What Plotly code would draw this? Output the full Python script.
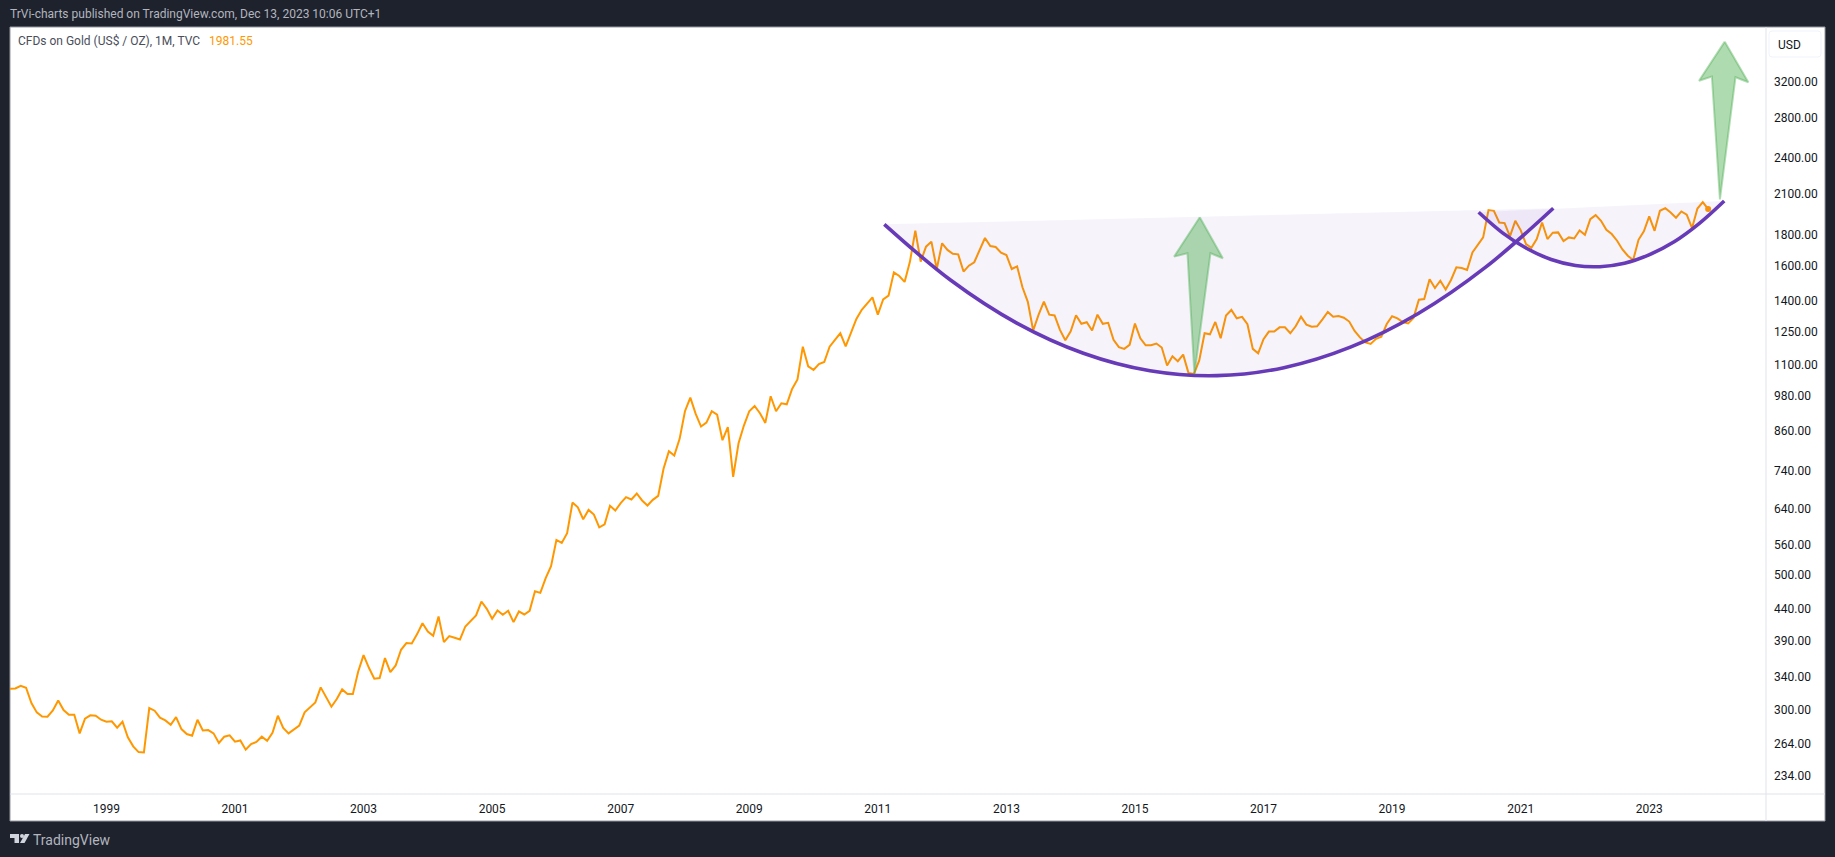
import plotly.graph_objects as go

# monthly closes, bar 0 is Jul 1997
closes_1997_2003 = [
    325, 325.4, 328.7, 326.2, 307.9, 297.3, 292.8, 292.5, 299.5, 311, 299.9, 294.7,
    294.7, 274.7, 290.3, 294, 293.6, 289.2, 287, 287.4, 280.6, 287, 270.6, 261.6,
    256, 255.7, 302.2, 299.2, 291.4, 288.5, 283.8, 292.1, 279.2, 274, 272.3, 289.2,
    277.8, 278.1, 274.7, 264.9, 271.3, 272.6, 266.2, 267.5, 258.3, 263.9, 265.9, 271.3,
    267.2, 275.4, 293.6, 280.3, 274.7, 278.5, 282.8, 297.3, 302.6, 308.7, 326.7, 315.7,
    303.7, 312.6, 324.2, 318.5, 318.5, 346.9, 368.9, 351.7, 337.5, 338.4, 364.8, 346,
    354.9,
]
closes_2003_2009 = [
    376.4, 386, 385.5, 399.3, 416.1, 403.3, 396.8, 426.7, 387.4, 396.3, 393.8, 391.3,
    411, 420.4, 428.4, 451.5, 439.2, 423, 436.5, 429.4, 436, 417.7, 434.9, 430,
    436, 469.4, 466.5, 493, 515.7, 569.5, 563, 584, 655.5, 644, 615.6, 637.7,
    626.6, 597, 604, 647.6, 636.3, 654.2, 669.1, 663.3, 678.4, 660.8, 648.4, 662.4,
    672.5, 744.5, 795.6, 782.8, 833.5, 925, 973.9, 915.7, 873.1, 886.3, 925, 913.5,
    829.3, 870.9, 722.4, 819.9, 876.4, 925, 943.7, 918, 885.2, 978.7, 925, 953.2,
]
closes_2009_2016 = [
    949.7, 1006, 1043, 1180, 1095.7, 1081, 1105, 1113.8, 1180, 1210, 1240.8, 1181.5,
    1243.9, 1309.6, 1356, 1385.5, 1420.8, 1331, 1410, 1429.8, 1561, 1540, 1506, 1626,
    1827, 1626, 1720, 1753, 1581, 1742, 1699, 1675, 1671, 1566, 1601, 1622,
    1699, 1777, 1724, 1718, 1682, 1667, 1581, 1597, 1476, 1397, 1254, 1330,
    1398, 1331, 1327, 1257, 1209, 1250, 1328, 1286, 1294, 1254, 1331, 1286,
    1291, 1211, 1178, 1170, 1188, 1287, 1218, 1186, 1186, 1194, 1176, 1099,
    1138, 1117, 1145, 1068, 1064, 1120, 1241, 1236, 1295, 1218, 1327, 1355,
]
closes_2016_2023 = [
    1313, 1320, 1284, 1170, 1151, 1214, 1249, 1249, 1269, 1269, 1241, 1274,
    1321, 1282, 1272, 1274, 1308, 1345, 1321, 1324, 1316, 1297, 1252, 1222,
    1199, 1192, 1215, 1225, 1285, 1323, 1313, 1295, 1288, 1315, 1408, 1412,
    1521, 1472, 1513, 1463, 1517, 1591, 1587, 1575, 1683, 1730, 1781, 1974,
    1969, 1884, 1880, 1788, 1896, 1831, 1737, 1713, 1770, 1884, 1770, 1813,
    1815, 1757, 1781, 1774, 1829, 1799, 1908, 1937, 1896, 1833, 1804, 1759,
    1702, 1662, 1635, 1765, 1822, 1928, 1826, 1969, 1989, 1957, 1918, 1964,
    1940, 1845, 1986, 2034, 1981.55,
]
closes = closes_1997_2003 + closes_2003_2009 + closes_2009_2016 + closes_2016_2023
bars = list(range(len(closes)))

year_labels = [1999, 2001, 2003, 2005, 2007, 2009, 2011, 2013, 2015, 2017, 2019, 2021, 2023]
price_ticks = [234, 264, 300, 340, 390, 440, 500, 560, 640, 740, 860, 980, 1100, 1250,
               1400, 1600, 1800, 2100, 2400, 2800, 3200]

# hand drawn curves and arrows, as bar / price pairs
big_curve_bars = [163.21, 175.56, 187.94, 200.37, 212.81, 225.31, 237.8, 250.33, 262.89, 275.47, 288.09]
big_curve_prices = [1871, 1516.8, 1289.6, 1150.9, 1077.3, 1057.7, 1090, 1178.7, 1337, 1592, 1987.7]
small_curve_bars = [274.16, 278.62, 283.16, 287.7, 292.23, 296.8, 301.39, 305.96, 310.66, 315.31, 320]
small_curve_prices = [1958, 1812, 1708, 1639, 1602, 1595, 1615.6, 1667.6, 1752, 1876, 2043]
arrow1_bars = [222.1, 226.4, 224.1, 221.1, 219.8, 217.3]
arrow1_prices = [1921.6, 1646.5, 1678, 1063, 1678, 1656.6]
arrow2_bars = [320.1, 324.5, 322.1, 319.2, 317.7, 315.3]
arrow2_prices = [3725, 3196, 3257, 2056, 3265, 3215]

ORANGE = "#FF9800"
PURPLE = "#673AB7"
DARK = "#1E222D"
W, H = 1835, 857
LEFT, RIGHT, TOP, BOTTOM = 10, 1766, 27, 794


def px(x):
    return (x - LEFT) / (RIGHT - LEFT)


def py(y):
    return (BOTTOM - y) / (BOTTOM - TOP)


fig = go.Figure()

fig.add_trace(go.Scatter(x=bars, y=closes, mode="lines", line=dict(color=ORANGE, width=2),
                         showlegend=False))
fig.add_trace(go.Scatter(x=bars[-1:], y=closes[-1:], mode="markers",
                         marker=dict(color=ORANGE, size=6), showlegend=False))

for xs, ys in [(big_curve_bars, big_curve_prices), (small_curve_bars, small_curve_prices)]:
    fig.add_trace(go.Scatter(x=xs, y=ys, mode="lines", fill="toself",
                             fillcolor="rgba(103,58,183,0.06)",
                             line=dict(color=PURPLE, width=3.6, shape="spline", smoothing=1),
                             hoverinfo="skip", showlegend=False))

for xs, ys in [(arrow1_bars, arrow1_prices), (arrow2_bars, arrow2_prices)]:
    fig.add_trace(go.Scatter(x=xs + xs[:1], y=ys + ys[:1], mode="lines", fill="toself",
                             fillcolor="rgba(76,175,80,0.45)",
                             line=dict(color="rgba(76,175,80,0.42)", width=2),
                             hoverinfo="skip", showlegend=False))

shapes = [
    # white panel and axis strips
    dict(type="rect", xref="paper", yref="paper", layer="below",
         x0=px(10), x1=px(1825), y0=py(821), y1=py(27),
         fillcolor="white", line=dict(color="#9598A1", width=1)),
    dict(type="line", xref="paper", yref="paper", layer="below",
         x0=px(10), x1=px(1825), y0=py(794), y1=py(794), line=dict(color="#E0E3EB", width=1)),
    dict(type="line", xref="paper", yref="paper", layer="below",
         x0=px(1766), x1=px(1766), y0=py(821), y1=py(27), line=dict(color="#E0E3EB", width=1)),
    # USD box
    dict(type="path", xref="paper", yref="paper", layer="below",
         path=f"M {px(1772)} {py(31)} L {px(1818)} {py(31)} Q {px(1821)} {py(31)} {px(1821)} {py(34)} "
              f"L {px(1821)} {py(54)} Q {px(1821)} {py(57)} {px(1818)} {py(57)} "
              f"L {px(1772)} {py(57)} Q {px(1769)} {py(57)} {px(1769)} {py(54)} "
              f"L {px(1769)} {py(34)} Q {px(1769)} {py(31)} {px(1772)} {py(31)} Z",
         fillcolor="white", line=dict(color="#F0F3FA", width=1)),
    # TradingView logo
    dict(type="path", xref="paper", yref="paper", layer="above",
         path=f"M {px(10)} {py(834)} L {px(19)} {py(834)} L {px(19)} {py(843)} L {px(14.5)} {py(843)} "
              f"L {px(14.5)} {py(838)} L {px(10)} {py(838)} Z",
         fillcolor="#D1D4DC", line=dict(width=0)),
    dict(type="circle", xref="paper", yref="paper", layer="above",
         x0=px(20), x1=px(24), y0=py(838), y1=py(834), fillcolor="#D1D4DC", line=dict(width=0)),
    dict(type="path", xref="paper", yref="paper", layer="above",
         path=f"M {px(25)} {py(834)} L {px(29.5)} {py(834)} L {px(24.5)} {py(843)} L {px(20)} {py(843)} Z",
         fillcolor="#D1D4DC", line=dict(width=0)),
]


def label(text, x, y, color, size=12):
    return dict(text=text, xref="paper", yref="paper", x=px(x), y=py(y), xanchor="left",
                yanchor="middle", showarrow=False, font=dict(color=color, size=size),
                borderpad=0, borderwidth=0)


annotations = [
    label("TrVi-charts published on TradingView.com, Dec 13, 2023 10:06 UTC+1", 10, 14, "#B2B5BE"),
    label("CFDs on Gold (US$ / OZ), 1M, TVC", 18, 41, "#4A4E5A"),
    label("1981.55", 209, 41, ORANGE),
    label("USD", 1778, 45, "#131722"),
    label("TradingView", 33, 840, "#B2B5BE", 14),
]

fig.update_layout(
    width=W, height=H,
    margin=dict(l=LEFT, r=W - RIGHT, t=TOP, b=H - BOTTOM, pad=0),
    paper_bgcolor=DARK,
    plot_bgcolor="rgba(0,0,0,0)",
    font=dict(family="Roboto, Open Sans, sans-serif", size=12, color="#131722"),
    showlegend=False,
    shapes=shapes,
    annotations=annotations,
    xaxis=dict(range=[0, 327.8], showgrid=False, zeroline=False, showline=False, ticks="",
               tickvals=[(y - 1997) * 12 - 6 for y in year_labels],
               ticktext=[str(y) for y in year_labels],
               ticklabelstandoff=6),
    yaxis=dict(type="log", range=[2.3396, 3.5951], side="right", showgrid=False, zeroline=False,
               showline=False, ticks="",
               tickvals=price_ticks, ticktext=[f"{p:.2f}" for p in price_ticks],
               ticklabelstandoff=7),
)

fig.write_html(
    "out.html",
    config={"displayModeBar": False},
    post_script="document.body.style.margin='0';document.body.style.background='#1E222D';"
                "document.body.style.overflow='hidden';",
)
